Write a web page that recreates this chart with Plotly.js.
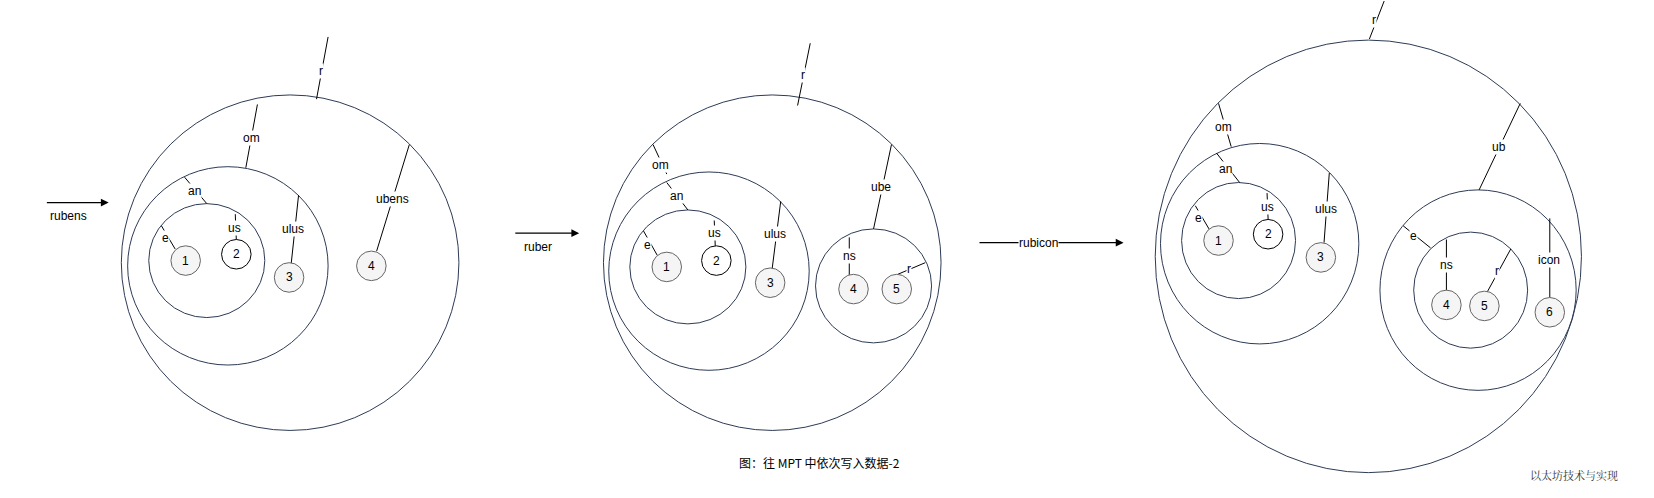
<!DOCTYPE html>
<html>
<head>
<meta charset="utf-8">
<script src="https://cdn.plot.ly/plotly-3.0.1.min.js"></script>
<style>html,body{margin:0;padding:0;background:#fff}</style>
</head>
<body>
<div id="myDiv" style="width:1654px;height:498px"></div>
<script>
// branch circles: cx, cy, rx, ry
var branchX = [275, 216, 196,   732, 672, 652, 828,   1297, 1194, 1174, 1401, 1394];
var branchY = [249, 252, 247,   249, 257, 253, 271,   243, 231, 228, 275, 275];
var branchRx = [160, 95, 55,    160, 95, 55, 55,      202, 94, 54, 93, 54];
var branchRy = [159, 94, 54,    159, 94, 54, 54,      205, 95, 55, 95, 55];

// value nodes: cx, cy, label, white = extension node
var nodeX = [176, 224, 274, 352,   632, 679, 730, 809, 850,   1155, 1202, 1252, 1371, 1407, 1469];
var nodeY = [247, 241, 263, 252,   253, 247, 268, 274, 274,   228, 222, 244, 289, 290, 296];
var nodeText = ["1", "2", "3", "4", "1", "2", "3", "4", "5", "1", "2", "3", "4", "5", "6"];
var nodeWhite = [false, true, false, false, false, true, false, false, false, false, true, false, false, false, false];

// edges: x0, y0, x1, y1
var edges = [
  [311, 35, 300, 94], [244, 99, 233, 159], [175, 168, 196, 193], [223, 203, 224, 227],
  [153, 214, 166, 236], [283, 185, 276, 250], [388, 137, 357, 238],
  [768, 41, 756, 100], [619, 137, 632, 165], [632, 173, 652, 199], [677, 209, 678, 234],
  [610, 219, 623, 242], [740, 191, 732, 254], [845, 137, 828, 217], [805, 225, 805, 261],
  [877, 249, 851, 260],
  [1312, 1, 1298, 37], [1155, 98, 1167, 139], [1153, 145, 1175, 173], [1201, 183, 1202, 208],
  [1133, 195, 1146, 217], [1260, 164, 1255, 230], [1441, 98, 1402, 180], [1330, 214, 1356, 235],
  [1371, 227, 1371, 276], [1432, 236, 1409, 278], [1469, 207, 1469, 282]
];

// edge labels
var labelX = [304, 238, 184, 222, 157, 278, 372,   761, 626, 641, 677, 614, 735, 835, 805, 862,
  1302, 1160, 1162, 1201, 1136, 1257, 1421, 1340, 1371, 1419, 1468];
var labelY = [67, 131, 181, 216, 226, 217, 189,    71, 156, 186, 221, 232, 222, 177, 243, 255,
  19, 120, 160, 196, 207, 198, 139, 224, 251, 257, 246];
var labelText = ["r", "om", "an", "us", "e", "ulus", "ubens",
  "r", "om", "an", "us", "e", "ulus", "ube", "ns", "r",
  "r", "om", "an", "us", "e", "ulus", "ub", "e", "ns", "r", "icon"];

// insert arrows: x0, x1, y, key
var arrowX0 = [43, 487, 927];
var arrowX1 = [103, 549, 1065];
var arrowY = [192, 221, 230];
var arrowKey = ["rubens", "ruber", "rubicon"];

var S = 1.055; // drawing units -> page pixels
var shapes = [], annotations = [];
var ink = "#2d3b55";
var font = { family: "Liberation Sans, Arial", size: 12, color: "#000" };

for (var i = 0; i < branchX.length; i++) {
  shapes.push({ type: "circle", xref: "x", yref: "y",
    x0: branchX[i] - branchRx[i], x1: branchX[i] + branchRx[i],
    y0: branchY[i] - branchRy[i], y1: branchY[i] + branchRy[i],
    line: { color: ink, width: 1 } });
}
edges.forEach(function (e) {
  shapes.push({ type: "line", xref: "x", yref: "y", x0: e[0], y0: e[1], x1: e[2], y1: e[3],
    line: { color: "#000", width: 1 } });
});
for (i = 0; i < nodeX.length; i++) {
  shapes.push({ type: "circle", xref: "x", yref: "y",
    x0: nodeX[i] - 14, x1: nodeX[i] + 14, y0: nodeY[i] - 14, y1: nodeY[i] + 14,
    fillcolor: nodeWhite[i] ? "#fff" : "#f5f5f5",
    line: { color: nodeWhite[i] ? "#000" : "#666", width: 1 } });
  annotations.push({ x: nodeX[i], y: nodeY[i], text: nodeText[i], showarrow: false, font: font });
}
for (i = 0; i < labelX.length; i++) {
  annotations.push({ x: labelX[i], y: labelY[i], text: labelText[i], showarrow: false,
    bgcolor: "#fff", borderpad: 0, font: font });
}
for (i = 0; i < arrowX0.length; i++) {
  annotations.push({ x: arrowX1[i], y: arrowY[i], ax: arrowX0[i], ay: arrowY[i],
    axref: "x", ayref: "y", xref: "x", yref: "y", text: "", showarrow: true,
    arrowhead: 2, arrowsize: 1.2, arrowwidth: 1.3, arrowcolor: "#000" });
  var onLine = i === 2;
  annotations.push({ x: onLine ? (arrowX0[i] + arrowX1[i]) / 2 - 12 : (arrowX0[i] + arrowX1[i]) / 2 - 8,
    y: onLine ? arrowY[i] : arrowY[i] + 13, text: arrowKey[i], showarrow: false,
    bgcolor: onLine ? "#fff" : "rgba(0,0,0,0)", borderpad: 0, font: font });
}
annotations.push({ x: 777, y: 438, text: "图：往 MPT 中依次写入数据-2", showarrow: false,
  font: { family: "Noto Sans CJK SC, Liberation Sans", size: 12, color: "#000" } });
annotations.push({ x: 1492, y: 450, text: "以太坊技术与实现", showarrow: false,
  font: { family: "Noto Serif CJK SC, Noto Sans CJK SC", size: 11, color: "#333" } });

var layout = {
  width: 1654, height: 498,
  margin: { t: 0, r: 0, l: 0, b: 0 },
  paper_bgcolor: "#fff", plot_bgcolor: "#fff",
  xaxis: { range: [0, 1654 / S], visible: false, fixedrange: true },
  yaxis: { range: [498 / S, 0], visible: false, fixedrange: true },
  shapes: shapes, annotations: annotations, showlegend: false
};
Plotly.newPlot("myDiv", [], layout, { staticPlot: true, displayModeBar: false });
</script>
</body>
</html>
